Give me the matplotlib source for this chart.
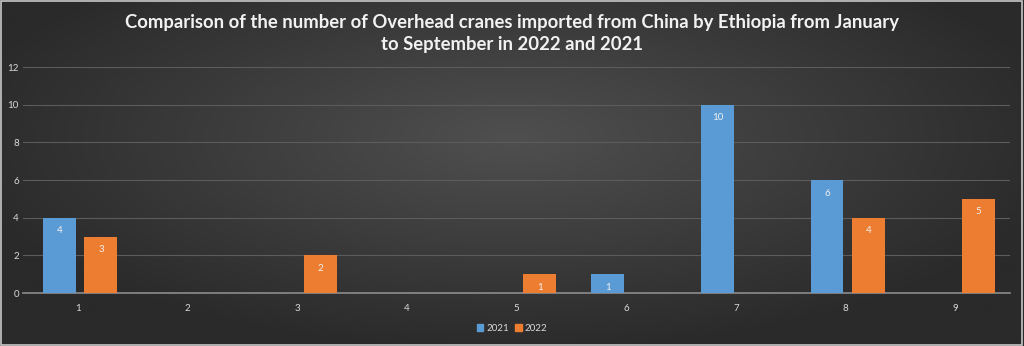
import matplotlib
matplotlib.use("Agg")
import matplotlib.pyplot as plt
import numpy as np
from matplotlib.patches import Patch

plt.rcParams["font.family"] = ["Lato", "DejaVu Sans"]

# monthly counts, January..September
months = ["1", "2", "3", "4", "5", "6", "7", "8", "9"]
units_2021 = [4, 0, 0, 0, 0, 1, 10, 6, 0]
units_2022 = [3, 0, 2, 0, 1, 0, 0, 4, 5]

BLUE = "#5b9bd5"
ORANGE = "#ed7d31"

fig = plt.figure(figsize=(10.24, 3.46), dpi=100)

# radial dark-grey backdrop, lightest just above the middle
bg = fig.add_axes([0, 0, 1, 1], zorder=-10)
yy, xx = np.mgrid[-1:1:200j, -1:1:600j]
r = np.sqrt((xx * 0.9) ** 2 + ((yy + 0.2) * 0.8) ** 2)
bg.imshow(np.clip(r, 0, 1), cmap=plt.matplotlib.colors.LinearSegmentedColormap.from_list(
    "bg", ["#4f4f4f", "#2a2a2a"]), aspect="auto", extent=[0, 1, 0, 1])
bg.set_axis_off()
fig.patches.append(plt.Rectangle((0.001, 0.002), 0.997, 0.995, transform=fig.transFigure,
                                 fill=False, edgecolor="#c8c8c8", lw=1.2))

ax = fig.add_axes([0.0225, 0.153, 0.964, 0.653])
ax.set_facecolor("none")
x = np.arange(len(months))
w = 0.30
b1 = ax.bar(x - 0.17, units_2021, w, color=BLUE, zorder=3)
b2 = ax.bar(x + 0.21, units_2022, w, color=ORANGE, zorder=3)

for bars, vals in ((b1, units_2021), (b2, units_2022)):
    for rect, v in zip(bars, vals):
        if v:
            ax.text(rect.get_x() + rect.get_width() / 2, v - 0.45, str(v),
                    ha="center", va="top", color="#f0f0f0", fontsize=7, zorder=4)

ax.set_xlim(-0.5, len(months) - 0.5)
ax.set_ylim(0, 12)
ax.set_yticks(range(0, 13, 2))
ax.set_xticks(x)
ax.set_xticklabels(months)
ax.tick_params(colors="#d9d9d9", labelsize=7, length=0, pad=8)
ax.tick_params(axis="y", pad=3)
ax.grid(axis="y", color="#5c5c5c", lw=0.8, zorder=0)
for s in ("top", "right", "left"):
    ax.spines[s].set_visible(False)
ax.spines["bottom"].set_color("#8c8c8c")
ax.spines["bottom"].set_linewidth(1.2)

fig.text(0.5, 0.96, "Comparison of the number of Overhead cranes imported from China by Ethiopia from January\nto September in 2022 and 2021",
         ha="center", va="top", color="#f2f2f2", fontsize=13.3, fontweight="bold", linespacing=1.35)

fig.legend(handles=[Patch(color=BLUE, label="2021"), Patch(color=ORANGE, label="2022")],
           loc="center", bbox_to_anchor=(0.5, 0.052), ncol=2, frameon=False,
           fontsize=7, labelcolor="#d9d9d9", handlelength=0.7, handleheight=0.7,
           handletextpad=0.3, columnspacing=0.6)

fig.savefig("out.png", dpi=100)
